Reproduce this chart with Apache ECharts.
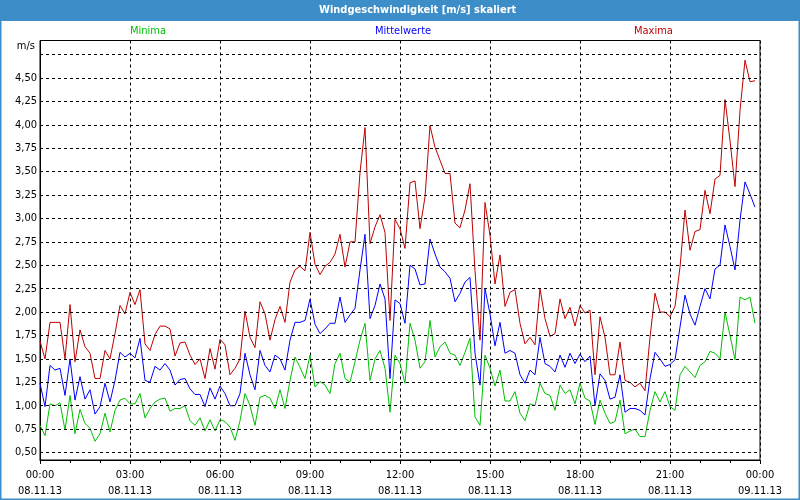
<!DOCTYPE html>
<html>
<head>
<meta charset="utf-8">
<script src="https://cdn.jsdelivr.net/npm/echarts@6/dist/echarts.min.js"></script>
<style>
html,body{margin:0;padding:0;background:#fff;}
#chart{width:800px;height:500px;}
</style>
</head>
<body>
<div id="chart"></div>
<script>
// 10-minute values, 08.11.13 00:00 .. 23:50
const stepMinutes = 10;
const minima = [0.79,0.68,1.02,1.00,1.03,0.74,1.11,0.70,0.96,0.81,0.76,0.62,0.70,0.92,0.72,0.95,1.06,1.08,1.02,1.02,
1.13,0.87,0.97,1.04,1.07,1.08,0.94,0.97,0.97,1.00,0.84,0.79,0.87,0.73,0.85,0.73,0.85,0.83,0.77,0.63,
0.84,1.13,1.00,0.79,1.09,1.11,1.08,0.97,1.17,0.97,1.27,1.52,1.41,1.29,1.54,1.20,1.26,1.22,1.13,1.45,
1.56,1.29,1.25,1.47,1.70,1.88,1.27,1.50,1.59,1.40,0.93,1.54,1.45,1.24,1.88,1.70,1.40,1.47,1.91,1.52,
1.63,1.68,1.56,1.54,1.43,1.57,1.72,0.88,0.79,1.54,1.40,1.21,1.38,1.05,1.05,1.15,0.92,0.84,1.02,1.00,
1.24,1.13,1.11,0.95,1.22,1.13,1.17,1.02,1.24,1.08,1.05,0.80,1.06,0.92,0.81,0.83,1.06,0.70,0.73,0.75,
0.67,0.67,0.95,1.15,1.04,1.15,0.99,0.95,1.33,1.42,1.36,1.30,1.43,1.47,1.58,1.56,1.50,2.00,1.75,1.49,
2.16,2.13,2.16,1.88];
const mittelwerte = [1.24,0.99,1.43,1.38,1.40,1.11,1.50,1.06,1.31,1.07,1.17,0.91,0.99,1.24,1.04,1.27,1.57,1.52,1.56,1.51,
1.72,1.27,1.25,1.42,1.38,1.45,1.38,1.22,1.28,1.29,1.18,1.12,1.12,0.99,1.19,1.07,1.21,1.13,1.00,1.00,
1.13,1.56,1.33,1.17,1.59,1.43,1.36,1.54,1.50,1.38,1.70,1.89,1.89,1.91,2.14,1.87,1.77,1.82,1.88,1.88,
2.16,1.89,1.97,2.04,2.45,2.83,1.93,2.07,2.30,2.14,1.29,2.13,2.09,1.88,2.50,2.46,2.29,2.30,2.78,2.62,
2.48,2.43,2.36,2.11,2.20,2.32,2.37,1.56,1.22,2.25,1.98,1.64,1.89,1.56,1.59,1.56,1.33,1.24,1.38,1.33,
1.73,1.45,1.42,1.36,1.54,1.41,1.56,1.45,1.55,1.47,1.53,1.00,1.34,1.27,1.07,1.09,1.33,0.93,0.97,0.97,
0.95,0.90,1.29,1.57,1.50,1.42,1.44,1.49,1.84,2.18,1.98,1.86,2.06,2.25,2.14,2.46,2.50,2.93,2.70,2.45,
2.98,3.39,3.26,3.12];
const maxima = [1.69,1.50,1.89,1.89,1.89,1.50,2.08,1.47,1.81,1.63,1.56,1.29,1.29,1.59,1.50,1.77,2.07,1.98,2.21,2.08,
2.24,1.66,1.59,1.76,1.85,1.85,1.82,1.53,1.67,1.68,1.54,1.44,1.50,1.29,1.61,1.39,1.71,1.65,1.33,1.40,
1.50,2.01,1.73,1.62,2.11,1.98,1.70,1.92,2.06,1.89,2.32,2.45,2.49,2.44,2.85,2.51,2.40,2.49,2.53,2.62,
2.83,2.48,2.75,2.75,3.49,3.97,2.73,2.91,3.04,2.85,1.91,2.99,2.89,2.68,3.38,3.40,2.89,3.23,3.99,3.76,
3.62,3.48,3.48,2.95,2.90,3.09,3.37,2.44,1.70,3.17,2.82,2.30,2.61,2.06,2.21,2.24,1.88,1.66,1.73,1.65,
2.25,1.93,1.74,1.77,2.14,1.93,2.05,1.85,2.07,1.99,2.02,1.33,1.95,1.73,1.33,1.33,1.68,1.27,1.25,1.20,
1.24,1.16,1.73,2.20,2.00,2.00,1.95,2.06,2.48,3.09,2.66,2.86,2.88,3.30,3.05,3.42,3.46,4.27,3.83,3.34,
4.15,4.69,4.46,4.47];

const xTickLabels = ['00:00\n08.11.13','03:00\n08.11.13','06:00\n08.11.13','09:00\n08.11.13','12:00\n08.11.13',
  '15:00\n08.11.13','18:00\n08.11.13','21:00\n08.11.13','00:00\n09.11.13'];
const yTickValues = [0.5,0.75,1.0,1.25,1.5,1.75,2.0,2.25,2.5,2.75,3.0,3.25,3.5,3.75,4.0,4.25,4.5];
const yTickLabels = ['0,50','0,75','1,00','1,25','1,50','1,75','2,00','2,25','2,50','2,75','3,00','3,25','3,50','3,75','4,00','4,25','4,50'];
const yGridValues = [0.5,0.75,1.0,1.25,1.5,1.75,2.0,2.25,2.5,2.75,3.0,3.25,3.5,3.75,4.0,4.25,4.5,4.75];

const FONT = 'DejaVu Sans Condensed';
const toPairs = arr => arr.map((v, i) => [i * stepMinutes, v]);

const chart = echarts.init(document.getElementById('chart'), null, {renderer: 'canvas'});
const dash = [3, 3];
const legendText = {fontFamily: FONT, fontSize: 11};

chart.setOption({
  animation: false,
  backgroundColor: '#ffffff',
  textStyle: {fontFamily: FONT},
  graphic: [
    {type: 'rect', shape: {x: 0, y: 0, width: 800, height: 21}, style: {fill: '#3d8ec8'}, z: -1},
    {type: 'rect', shape: {x: 0.5, y: 0.5, width: 799, height: 499}, style: {fill: null, stroke: '#3d8ec8', lineWidth: 2}, z: -1}
  ],
  title: {
    text: 'Windgeschwindigkeit [m/s] skaliert',
    left: 314, top: 0,
    textStyle: {color: '#ffffff', fontFamily: FONT, fontWeight: 'bold', fontSize: 11}
  },
  legend: [
    {data: [{name: 'Minima', textStyle: {color: '#00c000'}}], left: 120, top: 19, icon: 'none', itemWidth: 0, itemGap: 0, selectedMode: false, textStyle: legendText},
    {data: [{name: 'Mittelwerte', textStyle: {color: '#0000ff'}}], left: 365, top: 19, icon: 'none', itemWidth: 0, itemGap: 0, selectedMode: false, textStyle: legendText},
    {data: [{name: 'Maxima', textStyle: {color: '#c00000'}}], left: 624, top: 19, icon: 'none', itemWidth: 0, itemGap: 0, selectedMode: false, textStyle: legendText}
  ],
  grid: {left: 40, right: 40, top: 40.5, bottom: 40, show: true, borderColor: '#000', borderWidth: 1, backgroundColor: '#ffffff', containLabel: false},
  xAxis: {
    type: 'value', min: 0, max: 1440, interval: 180,
    axisLine: {show: true, lineStyle: {color: '#000', width: 1}},
    axisTick: {show: true, length: 4, lineStyle: {color: '#000'}},
    minorTick: {show: true, splitNumber: 3, length: 3, lineStyle: {color: '#000'}},
    splitLine: {show: true, lineStyle: {color: '#000', type: dash, width: 1}},
    axisLabel: {
      color: '#000', fontSize: 11, fontFamily: FONT, lineHeight: 16, margin: 7,
      showMinLabel: true, showMaxLabel: true,
      formatter: v => xTickLabels[Math.round(v / 180)]
    }
  },
  yAxis: {
    type: 'value', min: 0.42, max: 4.9,
    name: 'm/s', nameLocation: 'end', nameGap: -6,
    nameTextStyle: {color: '#000', fontSize: 11, fontFamily: FONT, align: 'right', verticalAlign: 'middle', padding: [0, 5, 0, 0]},
    axisLine: {show: true, lineStyle: {color: '#000', width: 1}},
    axisTick: {show: false},
    splitLine: {show: false},
    axisLabel: {
      color: '#000', fontSize: 11, fontFamily: FONT, margin: 3,
      customValues: yTickValues,
      formatter: v => {
        const k = yTickValues.findIndex(t => Math.abs(t - v) < 1e-6);
        return k >= 0 ? yTickLabels[k] : '';
      }
    }
  },
  series: [
    {
      name: 'Minima', type: 'line', data: toPairs(minima), showSymbol: false, symbol: 'none',
      lineStyle: {color: '#00c000', width: 1}, itemStyle: {color: '#00c000'},
      markLine: {
        silent: true, symbol: 'none', label: {show: false},
        lineStyle: {color: '#000', type: dash, width: 1},
        data: yGridValues.map(v => ({yAxis: v}))
      }
    },
    {
      name: 'Mittelwerte', type: 'line', data: toPairs(mittelwerte), showSymbol: false, symbol: 'none',
      lineStyle: {color: '#0000ff', width: 1}, itemStyle: {color: '#0000ff'}
    },
    {
      name: 'Maxima', type: 'line', data: toPairs(maxima), showSymbol: false, symbol: 'none',
      lineStyle: {color: '#c00000', width: 1}, itemStyle: {color: '#c00000'}
    }
  ]
});
</script>
</body>
</html>
